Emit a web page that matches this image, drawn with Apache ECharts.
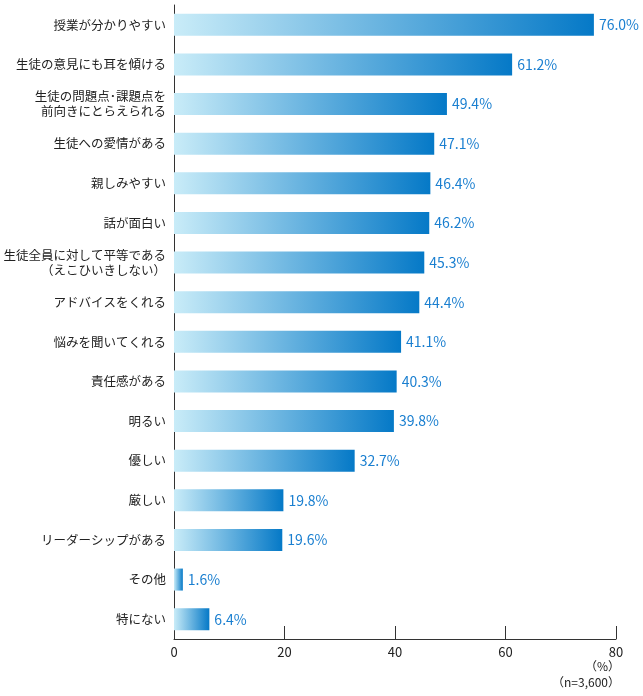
<!DOCTYPE html>
<html lang="ja" style="height: 100%">
<head>
  <meta charset="utf-8" />
  <title>教師に求めること</title>
</head>
<body style="height: 100%; margin: 0; background: #fff">
  <div id="container" style="width: 643px; height: 696px"></div>

  <script src="https://cdn.jsdelivr.net/npm/echarts@6/dist/echarts.min.js"></script>
  <script>
    // 項目（上から順）
    const categories = [
      '授業が分かりやすい',
      '生徒の意見にも耳を傾ける',
      '生徒の問題点･課題点を\n前向きにとらえられる',
      '生徒への愛情がある',
      '親しみやすい',
      '話が面白い',
      '生徒全員に対して平等である\n（えこひいきしない）',
      'アドバイスをくれる',
      '悩みを聞いてくれる',
      '責任感がある',
      '明るい',
      '優しい',
      '厳しい',
      'リーダーシップがある',
      'その他',
      '特にない'
    ];
    const values = [76.0, 61.2, 49.4, 47.1, 46.4, 46.2, 45.3, 44.4, 41.1, 40.3, 39.8, 32.7, 19.8, 19.6, 1.6, 6.4];
    const xTicks = [0, 20, 40, 60, 80];

    const font = '"Noto Sans CJK JP", "Noto Sans", sans-serif';

    var dom = document.getElementById('container');
    var myChart = echarts.init(dom);

    // バーごとに左→右のグラデーション
    const barColor = new echarts.graphic.LinearGradient(0, 0, 1, 0, [
      { offset: 0, color: '#c9ecf8' },
      { offset: 1, color: '#0579c7' }
    ]);

    var option = {
      animation: false,
      grid: { left: 174, right: 27, top: 5, bottom: 57 },
      xAxis: {
        type: 'value',
        min: xTicks[0],
        max: xTicks[xTicks.length - 1],
        interval: 20,
        splitLine: { show: false },
        axisLine: { show: true, lineStyle: { color: '#333', width: 1 } },
        axisTick: { show: true, inside: true, length: 13, lineStyle: { color: '#333' } },
        axisLabel: { color: '#222', fontSize: 13, fontFamily: font, margin: 7 }
      },
      yAxis: {
        type: 'category',
        inverse: true,
        data: categories,
        axisLine: { show: true, lineStyle: { color: '#333', width: 1 } },
        axisTick: { show: false },
        axisLabel: { color: '#222', fontSize: 12.5, fontFamily: font, margin: 8, lineHeight: 15, align: 'right' }
      },
      series: [
        {
          type: 'bar',
          data: values,
          barWidth: 22,
          itemStyle: { color: barColor },
          label: {
            show: true,
            position: 'right',
            distance: 5,
            color: '#1a7fd0',
            fontSize: 14,
            fontFamily: font,
            formatter: function (p) { return p.value.toFixed(1) + '%'; }
          }
        }
      ],
      graphic: [
        {
          type: 'text', right: 23, top: 660,
          style: { text: '（%）', fill: '#222', font: '12px ' + font, textAlign: 'right' }
        },
        {
          type: 'text', right: 23, top: 676,
          style: { text: '（n=3,600）', fill: '#222', font: '12px ' + font, textAlign: 'right' }
        }
      ]
    };

    myChart.setOption(option);

    window.onresize = function () {
      myChart.resize();
    };
  </script>
</body>
</html>
